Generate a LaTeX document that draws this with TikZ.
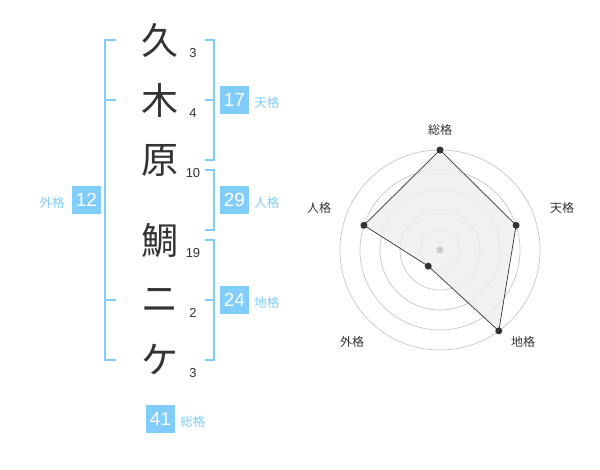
\documentclass[tikz,border=0pt]{standalone}
\usepackage{fontspec}
\setmainfont{Liberation Sans}
\newfontfamily\jpfont{Noto Sans CJK JP}
\usetikzlibrary{positioning}
\definecolor{kakublue}{HTML}{80CCFA}
\definecolor{inkgray}{HTML}{333333}
\tikzset{
  kanji/.style={inkgray,font=\jpfont\fontsize{37}{37}\selectfont},
  strokes/.style={inkgray,font=\fontsize{13}{13}\selectfont},
  kakubox/.style={fill=kakublue,text=white,minimum width=29pt,minimum height=28pt,inner sep=0pt,font=\fontsize{19}{19}\selectfont},
  kakuname/.style={kakublue,font=\jpfont\fontsize{12.5}{12.5}\selectfont,inner sep=0pt},
  bracket/.style={kakublue,line width=2.5pt},
  ring/.style={gray!45,line width=.7pt},
  axisname/.style={inkgray,font=\jpfont\fontsize{12}{12}\selectfont}
}
\begin{document}
\begin{tikzpicture}[x=1pt,y=-1pt]
\useasboundingbox (0,0) rectangle (600,470);
% name column
\foreach \ch/\y/\n [count=\i] in {久/40/3,木/100/4,原/160/10,鯛/240/19,ニ/300/2,ケ/360/3} {
  \node [kanji] (k\i) at (160,\y) {\ch};
  \node [strokes] (s\i) at (193,\y+13) {\n};
}
% brackets
\draw [bracket] (116,40) -- (105,40) -- (105,360) -- (116,360);
\draw [bracket] (105,100) -- (116,100) (105,300) -- (116,300);
\draw [bracket] (205,40) -- (214,40) -- (214,160) -- (205,160) (205,100) -- (214,100);
\draw [bracket] (205,170) -- (214,170) -- (214,230) -- (205,230);
\draw [bracket] (205,240) -- (214,240) -- (214,360) -- (205,360) (205,300) -- (214,300);
% kaku values
\node [kakubox] (ten) at (234.5,100) {17};
\node [kakubox] (jin) at (234.5,200) {29};
\node [kakubox] (chi) at (234.5,300) {24};
\node [kakubox] (gai) at (86.5,200) {12};
\node [kakubox] (sou) at (160.5,419) {41};
\node [kakuname,right=5pt of ten,yshift=-3pt] (tenname) {天格};
\node [kakuname,right=5pt of jin,yshift=-3pt] (jinname) {人格};
\node [kakuname,right=5pt of chi,yshift=-3pt] (chiname) {地格};
\node [kakuname,left=7pt of gai,yshift=-3pt] (gainame) {外格};
\node [kakuname,right=5pt of sou,yshift=-3pt] (souname) {総格};
% radar (y axis points down, so angles are negated)
\coordinate (ctr) at (440,250);
\foreach \r in {20,40,...,100}
  \draw [ring] (ctr) circle (\r);
\foreach \a/\r [count=\i] in {-90/100,-18/80,54/100,126/20,198/80}
  \coordinate (p\i) at ([shift={(\a:\r)}]ctr);
\draw [fill=gray!13,fill opacity=.8,draw=inkgray,line width=.7pt] (p1) -- (p2) -- (p3) -- (p4) -- (p5) -- cycle;
\foreach \i in {1,...,5}
  \fill [inkgray] (p\i) circle (3.5);
\fill [gray!40] (ctr) circle (3.5);
\node [axisname] (axsou) at (440,130) {総格};
\node [axisname] (axten) at (562,208) {天格};
\node [axisname] (axjin) at (319,208) {人格};
\node [axisname] (axgai) at (352,342) {外格};
\node [axisname] (axchi) at (523,342) {地格};
\end{tikzpicture}
\end{document}
